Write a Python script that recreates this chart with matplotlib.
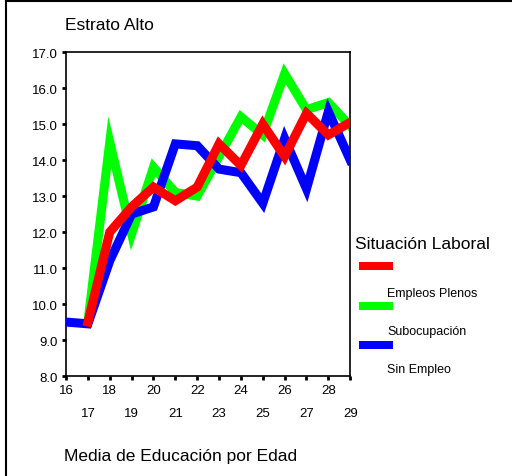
import matplotlib
matplotlib.use("Agg")
import matplotlib.pyplot as plt
from matplotlib.lines import Line2D
from matplotlib.patches import Rectangle

plt.rcParams['font.family'] = ['Liberation Sans', 'DejaVu Sans']

# data
edad = [16, 17, 18, 19, 20, 21, 22, 23, 24, 25, 26, 27, 28, 29]
empleos_plenos = [None, 9.5, 12.0, 12.7, 13.25, 12.87, 13.25, 14.45, 13.85, 15.0, 14.1, 15.3, 14.7, 15.05]
subocupacion = [None, 9.5, 14.5, 11.95, 13.8, 13.1, 13.0, 14.1, 15.2, 14.7, 16.4, 15.4, 15.6, 14.95]
sin_empleo = [9.5, 9.45, 11.2, 12.5, 12.7, 14.45, 14.4, 13.75, 13.65, 12.8, 14.6, 13.2, 15.35, 14.0]

series = ["Empleos Plenos", "Subocupación", "Sin Empleo"]
colores = ["#ff0000", "#00ff00", "#0000ff"]

fig = plt.figure(figsize=(5.12, 4.77), dpi=100)
ax = fig.add_axes([0.129, 0.2096, 0.555, 0.679])


def xy(vals):
    xs = [e for e, v in zip(edad, vals) if v is not None]
    ys = [v for v in vals if v is not None]
    return xs, ys


lw = 6.5
ax.plot(*xy(subocupacion), color=colores[1], lw=lw, solid_joinstyle='miter', zorder=2)
ax.plot(*xy(sin_empleo), color=colores[2], lw=lw, solid_joinstyle='miter', zorder=3)
ax.plot(*xy(empleos_plenos), color=colores[0], lw=lw, solid_joinstyle='miter', zorder=4)

ax.set_xlim(16, 29)
ax.set_ylim(8, 17)
ax.set_yticks([8, 9, 10, 11, 12, 13, 14, 15, 16, 17])
ax.set_yticklabels(["%.1f" % v for v in range(8, 18)], fontsize=9.5)
ax.set_xticks([e for e in edad if e % 2 == 0])
ax.set_xticklabels([str(e) for e in edad if e % 2 == 0], fontsize=9.5)
ax.set_xticks([e for e in edad if e % 2 == 1], minor=True)
ax.set_xticklabels([str(e) for e in edad if e % 2 == 1], minor=True, fontsize=9.5)
ax.tick_params(axis='x', which='major', length=3, width=2, pad=3, direction='out')
ax.tick_params(axis='x', which='minor', length=3, width=2, pad=19, direction='out')
ax.tick_params(axis='y', length=3, width=2, pad=3, direction='out')
for s in ax.spines.values():
    s.set_linewidth(1.2)

# title and axis label
fig.text(65 / 512, 1 - 25 / 477, "Estrato Alto", fontsize=12.5, va='center', ha='left')
fig.text(64 / 512, 1 - 457 / 477, "Media de Educación por Edad", fontsize=12.5, va='center', ha='left')

# legend drawn by hand, labels sit below their swatches
fig.text(355 / 512, 1 - 245 / 477, "Situación Laboral", fontsize=12.5, va='center', ha='left')
sw_y = [267, 307, 346]
lb_y = [294, 332, 370]
for c, lab, sy, ly in zip(colores, series, sw_y, lb_y):
    fig.patches.append(Rectangle((359 / 512, 1 - (sy + 4) / 477), 34 / 512, 8 / 477,
                                 transform=fig.transFigure, facecolor=c, edgecolor='none'))
    fig.text(387 / 512, 1 - ly / 477, lab, fontsize=9, va='center', ha='left')

# outer frame (left and top)
fig.add_artist(Line2D([6 / 512, 6 / 512], [0, 1 - 1.5 / 477], transform=fig.transFigure, color='black', lw=1.5))
fig.add_artist(Line2D([6 / 512, 1], [1 - 1.5 / 477, 1 - 1.5 / 477], transform=fig.transFigure, color='black', lw=1.5))

fig.savefig("out.png", dpi=100)
